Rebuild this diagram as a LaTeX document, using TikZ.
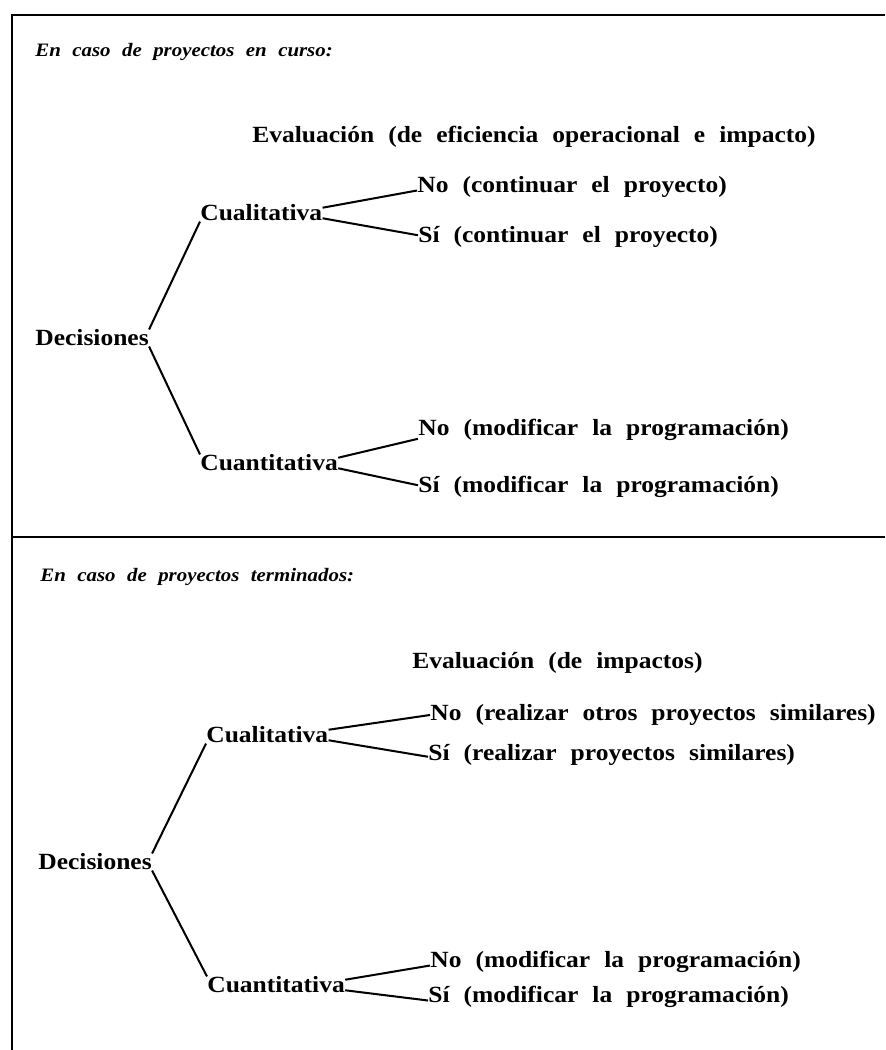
\documentclass[tikz,border=0pt]{standalone}
\usepackage{fontspec}
\setmainfont{Liberation Serif}[FakeStretch=1.1, WordSpace=2.2]
\usepackage{tikz}
\usetikzlibrary{positioning}

\begin{document}
\begin{tikzpicture}[
    x=0.02cm, y=-0.02cm,
    every node/.style={inner sep=0pt, anchor=west},
    lbl/.style={font=\fontsize{13.2}{15}\selectfont\bfseries},
    head/.style={font=\fontsize{10.8}{13}\selectfont\bfseries\itshape},
    frame/.style={line width=1.6pt},
    branch/.style={line width=1.15pt},
]
\useasboundingbox (0,0) rectangle (885,1050);

% Frame of the two panels
\draw[frame] (885,15) -- (12,15) -- (12,1050);
\draw[frame] (12,537) -- (885,537);

% Projects in progress
\node[head] (head_top) at (35,52) {En caso de proyectos en curso:};
\node[lbl] (eval_top) at (252,137) {Evaluación (de eficiencia operacional e impacto)};
\node[lbl] (dec_top) at (35,338) {Decisiones};
\node[lbl] (cual_top) at (200,213) {Cualitativa};
\node[lbl] (cual_top_no) at (417,187) {No (continuar el proyecto)};
\node[lbl] (cual_top_si) at (418,237) {Sí (continuar el proyecto)};
\node[lbl] (cuan_top) at (200,463) {Cuantitativa};
\node[lbl] (cuan_top_no) at (418,430) {No (modificar la programación)};
\node[lbl] (cuan_top_si) at (418,487) {Sí (modificar la programación)};

\draw[branch] (dec_top.north east) -- (cual_top.south west);
\draw[branch] (dec_top.south east) -- (cuan_top.north west);
\draw[branch] ([yshift=3pt]cual_top.east) -- ([yshift=-2pt]cual_top_no.west);
\draw[branch] ([yshift=-3pt]cual_top.east) -- ([yshift=1pt]cual_top_si.west);
\draw[branch] ([yshift=3pt]cuan_top.east) -- ([yshift=-5pt]cuan_top_no.west);
\draw[branch] ([yshift=-3pt]cuan_top.east) -- ([yshift=1pt]cuan_top_si.west);

% Finished projects
\node[head] (head_bot) at (40,577) {En caso de proyectos terminados:};
\node[lbl] (eval_bot) at (412,663) {Evaluación (de impactos)};
\node[lbl] (dec_bot) at (38,862) {Decisiones};
\node[lbl] (cual_bot) at (206,735) {Cualitativa};
\node[lbl] (cual_bot_no) at (430,715) {No (realizar otros proyectos similares)};
\node[lbl] (cual_bot_si) at (428,755) {Sí (realizar proyectos similares)};
\node[lbl] (cuan_bot) at (207,985) {Cuantitativa};
\node[lbl] (cuan_bot_no) at (430,962) {No (modificar la programación)};
\node[lbl] (cuan_bot_si) at (428,997) {Sí (modificar la programación)};

\draw[branch] (dec_bot.north east) -- (cual_bot.south west);
\draw[branch] (dec_bot.south east) -- (cuan_bot.north west);
\draw[branch] ([yshift=3pt]cual_bot.east) -- ([yshift=0pt]cual_bot_no.west);
\draw[branch] ([yshift=-3pt]cual_bot.east) -- ([yshift=-1pt]cual_bot_si.west);
\draw[branch] ([yshift=3pt]cuan_bot.east) -- ([yshift=-2pt]cuan_bot_no.west);
\draw[branch] ([yshift=-3pt]cuan_bot.east) -- ([yshift=-2pt]cuan_bot_si.west);

\end{tikzpicture}
\end{document}
